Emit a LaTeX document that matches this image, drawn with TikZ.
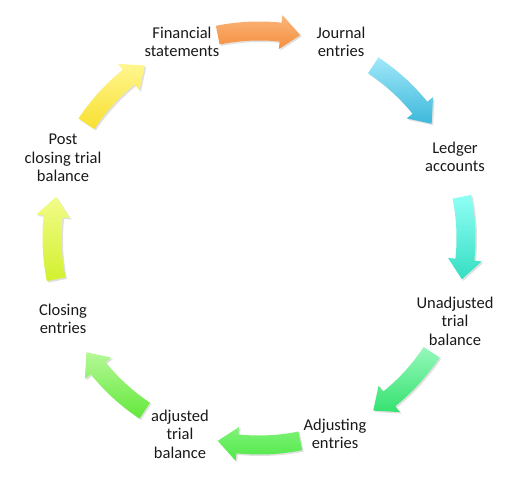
\documentclass[tikz,border=0pt]{standalone}
\usepackage{fontspec}
\setmainfont{Carlito}
\begin{document}
\begin{tikzpicture}[x=1pt,y=1pt,
  lbl/.style={align=center,inner sep=0pt,font=\fontsize{16.5}{18.5}\selectfont,text=black!90}]
\useasboundingbox (0,0) rectangle (511,481);
\coordinate (C) at (259,243);
% curved arrow: #1 mid angle, #2 light, #3 dark
\newcommand\cycarrow[3]{%
  \begin{scope}[shift={(C)}]
  \fill[black,opacity=0.12,shift={(1.5pt,-1.5pt)}]
    ({#1+11.5}:216.5pt) arc[start angle={#1+11.5}, end angle={#1-6}, radius=216.5pt]
    -- ({#1-6}:224pt) -- ({#1-11.5}:207pt) -- ({#1-6}:190pt) -- ({#1-6}:197.5pt)
    arc[start angle={#1-6}, end angle={#1+11.5}, radius=197.5pt] -- cycle;
  \shade[top color=#2,bottom color=#3]
    ({#1+11.5}:216.5pt) arc[start angle={#1+11.5}, end angle={#1-6}, radius=216.5pt]
    -- ({#1-6}:224pt) -- ({#1-11.5}:207pt) -- ({#1-6}:190pt) -- ({#1-6}:197.5pt)
    arc[start angle={#1-6}, end angle={#1+11.5}, radius=197.5pt] -- cycle;
  \end{scope}}
\definecolor{aL}{HTML}{FBB57A}\definecolor{aD}{HTML}{F58F3E}
\definecolor{bL}{HTML}{A0E8FA}\definecolor{bD}{HTML}{3DB8DA}
\definecolor{cL}{HTML}{90FFF6}\definecolor{cD}{HTML}{35DEC2}
\definecolor{dL}{HTML}{95F8BA}\definecolor{dD}{HTML}{35E270}
\definecolor{eL}{HTML}{80F378}\definecolor{eD}{HTML}{50E848}
\definecolor{fL}{HTML}{B5F897}\definecolor{fD}{HTML}{62E83A}
\definecolor{gL}{HTML}{F2FC8A}\definecolor{gD}{HTML}{D2F02E}
\definecolor{hL}{HTML}{FFF690}\definecolor{hD}{HTML}{F8E030}
\cycarrow{90}{aL}{aD}
\cycarrow{45}{bL}{bD}
\cycarrow{0}{cL}{cD}
\cycarrow{-45}{dL}{dD}
\cycarrow{-90}{eL}{eD}
\cycarrow{-135}{fL}{fD}
\cycarrow{180}{gL}{gD}
\cycarrow{135}{hL}{hD}
\node[lbl] (fs) at (182,439) {Financial\\statements};
\node[lbl] (je) at (341,439) {Journal\\entries};
\node[lbl] (la) at (455,324) {Ledger\\accounts};
\node[lbl] (ut) at (455,160) {Unadjusted\\trial\\balance};
\node[lbl] (ae) at (335,47) {Adjusting\\entries};
\node[lbl] (at) at (180,47) {adjusted\\trial\\balance};
\node[lbl] (ce) at (63,162) {Closing\\entries};
\node[lbl] (pc) at (63,323) {Post\\closing trial\\balance};
\end{tikzpicture}
\end{document}
